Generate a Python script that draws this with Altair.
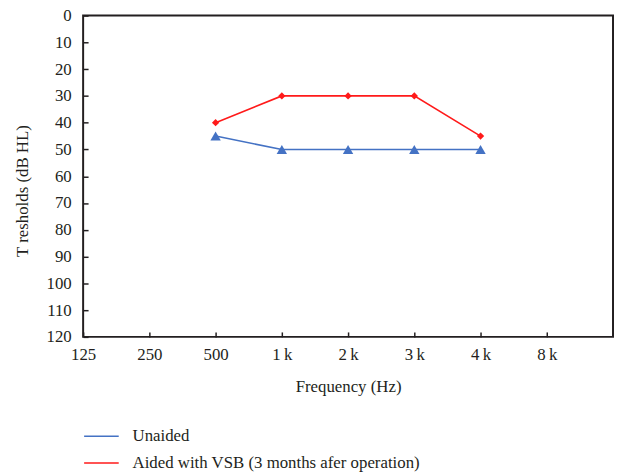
import altair as alt
import pandas as pd

freq_labels = ["125", "250", "500", "1\u2009k", "2\u2009k", "3\u2009k", "4\u2009k", "8\u2009k"]
freq_index = [2, 3, 4, 5, 6]  # 500, 1k, 2k, 3k, 4k
unaided = [45, 50, 50, 50, 50]
aided = [40, 30, 30, 30, 45]
series_names = ["Unaided", "Aided with VSB (3 months afer operation)"]
colors = ["#4472c4", "#ff1a1a"]

rows = []
for i, v in zip(freq_index, unaided):
    rows.append({"f": i, "db": v, "series": series_names[0]})
for i, v in zip(freq_index, aided):
    rows.append({"f": i, "db": v, "series": series_names[1]})
df = pd.DataFrame(rows)

FONT = "Liberation Serif"
FS = 17
label_arr = "[" + ",".join("'" + s + "'" for s in freq_labels) + "]"

x = alt.X("f:Q", scale=alt.Scale(domain=[0, 8], nice=False, zero=False),
          axis=alt.Axis(values=list(range(8)), labelExpr=label_arr + "[datum.value]",
                        title="Frequency (Hz)", domain=False, offset=-5, tickSize=5,
                        tickColor="#231f20", tickWidth=1.5, labelPadding=10,
                        labelFlush=False, titlePadding=16, grid=False))
y = alt.Y("db:Q", scale=alt.Scale(domain=[0, 120], reverse=True, nice=False),
          axis=alt.Axis(values=list(range(0, 121, 10)), title="T resholds (dB HL)",
                        domain=False, offset=-5, tickSize=5, tickColor="#231f20",
                        tickWidth=1.5, labelPadding=12, labelFlush=False,
                        titlePadding=15, grid=False, titleY=177))

base = alt.Chart(df)
leg = alt.Legend(title=None, orient="bottom", direction="vertical", offset=24,
                 padding=0, labelFont=FONT, labelFontSize=FS,
                 labelColor="#231f20", labelOffset=13, labelLimit=500,
                 rowPadding=-1, symbolSize=1225, symbolStrokeWidth=1.5)
color = alt.Color("series:N", scale=alt.Scale(domain=series_names, range=colors), legend=leg)

lines = base.mark_line(strokeWidth=1.6).encode(x=x, y=y, color=color)
tri = base.transform_filter(alt.datum.series == series_names[0]).mark_point(
    shape="triangle-up", filled=True, size=110, opacity=1).encode(x=x, y=y, color=color)
dia = base.transform_filter(alt.datum.series == series_names[1]).mark_point(
    shape="diamond", filled=True, size=55, opacity=1).encode(x=x, y=y, color=color)

chart = alt.layer(lines, tri, dia).properties(
    width=536, height=325,
    background="white",
    autosize=alt.AutoSizeParams(type="none"),
    padding={"left": 76, "top": 5, "right": 1, "bottom": 134},
).configure_view(stroke="#231f20", strokeWidth=2).configure_axis(
    labelFont=FONT, labelFontSize=FS, labelColor="#231f20",
    titleFont=FONT, titleFontSize=FS, titleFontWeight="normal", titleColor="#231f20",
)

chart.save("out.html", embed_options={"renderer": "svg", "actions": False})
